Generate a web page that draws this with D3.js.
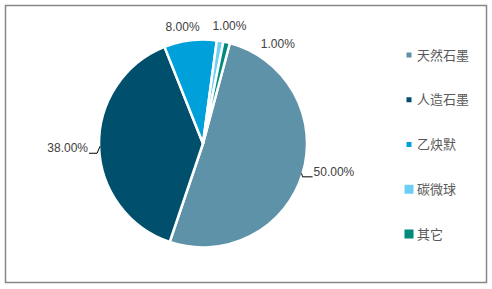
<!DOCTYPE html>
<html>
<head>
<meta charset="utf-8">
<script src="https://cdn.jsdelivr.net/npm/d3@7/dist/d3.min.js"></script>
<style>
body { margin: 0; background: #fff; }
text { font-family: "Liberation Sans", Arial, "Noto Sans CJK SC", sans-serif; }
</style>
</head>
<body>
<svg id="chart" width="492" height="289"></svg>
<script>
"use strict";

var categories = ["天然石墨", "人造石墨", "乙炔默", "碳微球", "其它"];
var values = [50, 38, 8, 1, 1];
var labels = ["50.00%", "38.00%", "8.00%", "1.00%", "1.00%"];
var colors = ["#5e92a8", "#004f6c", "#00a1da", "#6dcff5", "#008a7d"];
var markerSize = [5, 5, 5, 9, 9];

// label nudges (Excel pushes the two tiny slices apart)
var nudge = [[0, 0], [0, 0], [-6, 0], [7, -1], [48, 15]];

var cx = 203, cy = 143.5, r = 104;
var startDeg = 15;

var svg = d3.select("#chart");

svg.append("rect")
	.attr("x", 5.5).attr("y", 5.5)
	.attr("width", 481).attr("height", 277)
	.attr("fill", "none")
	.attr("stroke", "#878787")
	.attr("stroke-width", 1.5);

var pie = d3.pie().sort(null).value(function(d){ return d; })
	.startAngle(startDeg * Math.PI / 180)
	.endAngle(startDeg * Math.PI / 180 + 2 * Math.PI);
var arcs = pie(values);
var arc = d3.arc().innerRadius(0).outerRadius(r);

var g = svg.append("g").attr("transform", "translate(" + cx + "," + cy + ")");

g.selectAll("path.slice").data(arcs).enter().append("path")
	.attr("class", "slice")
	.attr("d", arc)
	.attr("fill", function(d, i){ return colors[i]; })
	.attr("stroke", "#fff")
	.attr("stroke-width", 2.5)
	.attr("stroke-linejoin", "round");

function polar(a, rad) { return [rad * Math.sin(a), -rad * Math.cos(a)]; }

arcs.forEach(function(d, i){
	var mid = (d.startAngle + d.endAngle) / 2;
	var s = Math.sin(mid);
	var side = Math.abs(s) >= 0.9;
	var e = polar(mid, r - 1);
	var x, y, anchor;
	if (side) {
		x = e[0] + (s > 0 ? 12 : -12);
		y = e[1] + (s > 0 ? -1.5 : 2);
		anchor = s > 0 ? "start" : "end";
	} else {
		var p = polar(mid, r + 14);
		x = p[0] + nudge[i][0];
		y = p[1] + nudge[i][1];
		anchor = "middle";
	}
	g.append("text")
		.attr("x", x).attr("y", y)
		.attr("dy", "0.35em")
		.attr("text-anchor", anchor)
		.attr("fill", "#404040")
		.style("font-size", "12px")
		.text(labels[i]);
	if (side) {
		var by = y + 5;
		var bx = s > 0 ? x - 1 : x + 1;
		var kx = s > 0 ? e[0] + 1 : e[0] - 3;
		g.append("polyline")
			.attr("points", [e, [kx, by], [bx, by]].map(function(q){ return q.join(","); }).join(" "))
			.attr("fill", "none")
			.attr("stroke", "#000")
			.attr("stroke-width", 1);
	}
});

var legend = svg.append("g").attr("transform", "translate(409,55)");
var ly = d3.scalePoint().domain(categories).range([0, 179]);

categories.forEach(function(c, i){
	var y = ly(c);
	var m = markerSize[i];
	legend.append("rect")
		.attr("x", -m / 2).attr("y", y - m / 2)
		.attr("width", m).attr("height", m)
		.attr("fill", colors[i]);
	legend.append("text")
		.attr("x", 8).attr("y", y)
		.attr("dy", "0.35em")
		.attr("fill", "#595959")
		.style("font-size", "13px")
		.text(c);
});
</script>
</body>
</html>
